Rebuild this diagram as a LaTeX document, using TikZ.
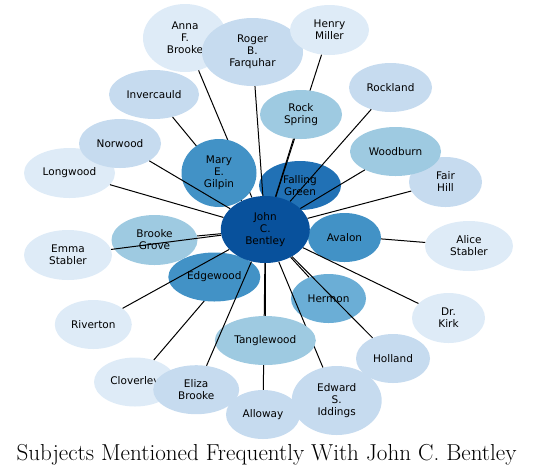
\documentclass[tikz,border=0pt]{standalone}
\usepackage{fontspec}
\newfontfamily\nodefont{DejaVu Sans}
\usetikzlibrary{shapes.geometric}
\definecolor{b1}{HTML}{DEEBF7}
\definecolor{b2}{HTML}{C6DBEF}
\definecolor{b3}{HTML}{9ECAE1}
\definecolor{b4}{HTML}{6BAED6}
\definecolor{b5}{HTML}{4292C6}
\definecolor{b6}{HTML}{2171B5}
\definecolor{b7}{HTML}{08519C}
\tikzset{
  ent/.style={ellipse, inner sep=0pt, align=center, text=black,
    font=\nodefont\fontsize{10.5}{12}\selectfont},
  one/.style={ent, minimum height=49pt},
  three/.style={ent, minimum height=68pt},
  link/.style={draw=black, line width=1pt},
}
\begin{document}
\begin{tikzpicture}[x=1pt,y=-1pt]
\useasboundingbox (0,0) rectangle (537,475);
% --- bottom layer nodes
\node[three, fill=b1, minimum width=84pt] (anna) at (185,38) {Anna\\F.\\Brooke};
\node[three, fill=b2, minimum width=101pt] (roger) at (252.5,52) {Roger\\B.\\Farquhar};
\node[one, fill=b1, minimum width=79pt, minimum height=50pt] (henry) at (329.5,30) {Henry\\Miller};
\node[one, fill=b2, minimum width=90pt] (inver) at (154,94.5) {Invercauld};
\node[one, fill=b2, minimum width=83pt] (rockland) at (390.5,87.5) {Rockland};
\node[one, fill=b1, minimum width=91pt, minimum height=50pt] (longwood) at (69.5,173) {Longwood};
\node[one, fill=b2, minimum width=82pt] (norwood) at (120,143.5) {Norwood};
\node[one, fill=b2, minimum width=73pt, minimum height=50pt] (fairhill) at (445.5,182) {Fair\\Hill};
\node[one, fill=b3, minimum width=91pt] (woodburn) at (395.5,151.5) {Woodburn};
\node[one, fill=b6, minimum width=82pt] (falling) at (300,185.5) {Falling\\Green};
\node[one, fill=b1, minimum width=88pt, minimum height=50pt] (alice) at (469,246) {Alice\\Stabler};
\node[one, fill=b1, minimum width=88pt, minimum height=50pt] (emma) at (68,255) {Emma\\Stabler};
\node[one, fill=b3, minimum width=86pt, minimum height=50pt] (grove) at (154.5,240) {Brooke\\Grove};
\node[one, fill=b1, minimum width=77pt] (riverton) at (93.3,324.5) {Riverton};
\node[one, fill=b1, minimum width=73pt, minimum height=50pt] (kirk) at (448.5,318) {Dr.\\Kirk};
\node[one, fill=b4, minimum width=75pt] (hermon) at (328.5,298.5) {Hermon};
\node[one, fill=b2, minimum width=74pt] (holland) at (393,358.5) {Holland};
\node[one, fill=b1, minimum width=82pt] (clover) at (135,382) {Cloverley};
\node[one, fill=b2, minimum width=86pt] (eliza) at (196.2,389.7) {Eliza\\Brooke};
\node[one, fill=b2, minimum width=74pt] (alloway) at (263,414.5) {Alloway};
\node[three, fill=b2, minimum width=90pt, minimum height=69pt] (edward) at (336.7,400.5) {Edward\\S.\\Iddings};
% --- centre node position (drawn last)
\coordinate (bc) at (265.3,229.5);
\path (bc) node[three, minimum width=89pt, minimum height=67pt] (bentley) {};
% --- edges under some nodes
\draw[link] (bentley) -- (anna);
\draw[link] (bentley) -- (inver);
\draw[link] (bentley) -- (henry);
\draw[link] (bentley) -- (alloway);
\draw[link] (bentley) -- (edward);
\draw[link] (bentley) -- (clover);
\draw[link] (bentley) -- (alice);
% --- middle layer nodes
\node[three, fill=b5, minimum width=75pt] (mary) at (219,173) {Mary\\E.\\Gilpin};
\node[one, fill=b3, minimum width=82pt] (rockspring) at (301,114.5) {Rock\\Spring};
\node[one, fill=b3, minimum width=101pt] (tangle) at (265.3,340.5) {Tanglewood};
\node[one, fill=b5, minimum width=92pt] (edgewood) at (214.3,277) {Edgewood};
\node[one, fill=b5, minimum width=73pt] (avalon) at (344.5,237.5) {Avalon};
% --- edges over nodes
\draw[link] (bentley) -- (roger);
\draw[link] (bentley) -- (rockspring);
\draw[link] (bentley) -- (rockland);
\draw[link] (bentley) -- (woodburn);
\draw[link] (bentley) -- (fairhill);
\draw[link] (bentley) -- (norwood);
\draw[link] (bentley) -- (longwood);
\draw[link] (bentley) -- (grove);
\draw[link] (bentley) -- (emma);
\draw[link] (bentley) -- (riverton);
\draw[link] (bentley) -- (eliza);
\draw[link] (bentley) -- (tangle);
\draw[link] (bentley) -- (hermon);
\draw[link] (bentley) -- (holland);
\draw[link] (bentley) -- (kirk);
% --- centre node on top
\node[three, fill=b7, minimum width=89pt, minimum height=67pt] at (bc) {John\\C.\\Bentley};
% --- title
\node[anchor=base, font=\fontsize{23.1}{27}\selectfont, inner sep=0pt] (title) at (266.5,460) {Subjects Mentioned Frequently With John C. Bentley};
\end{tikzpicture}
\end{document}
